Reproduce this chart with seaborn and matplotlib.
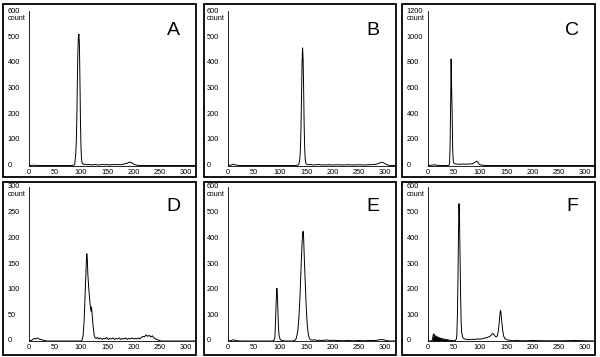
import matplotlib
matplotlib.use("Agg")
import matplotlib.pyplot as plt
from matplotlib.patches import Rectangle
from matplotlib.ticker import MultipleLocator
import seaborn as sns

sns.set_style("white")
plt.rcParams["font.family"] = ["Liberation Sans", "DejaVu Sans"]
plt.rcParams["text.color"] = "black"

# (channel, count)
hist_a = [(0, 0), (10, 1), (20, 0), (40, 0), (60, 0), (80, 0), (86, 1), (88, 4), (89, 25), (90, 45),
          (91, 90), (92, 180), (93, 320), (94, 440), (95, 500), (96, 512), (97, 470), (98, 330),
          (99, 170), (100, 70), (101, 25), (102, 10), (104, 6), (106, 4), (108, 5), (112, 3),
          (116, 4), (120, 2), (125, 4), (130, 3), (135, 2), (140, 4), (145, 3), (150, 4), (155, 2),
          (160, 4), (165, 3), (170, 4), (175, 3), (180, 5), (185, 7), (188, 9), (191, 12),
          (194, 13), (197, 10), (200, 6), (203, 3), (207, 1), (212, 0), (240, 0), (280, 0), (321, 0)]
hist_b = [(0, 0), (8, 2), (11, 5), (14, 3), (18, 1), (25, 0), (60, 0), (100, 0), (130, 0), (134, 1),
          (136, 5), (138, 30), (139, 70), (140, 150), (141, 270), (142, 400), (143, 458), (144, 420),
          (145, 300), (146, 160), (147, 70), (148, 25), (149, 10), (151, 5), (154, 3), (158, 4),
          (163, 2), (168, 3), (173, 4), (178, 2), (183, 3), (188, 2), (193, 3), (200, 2), (210, 3),
          (220, 2), (230, 3), (240, 2), (250, 3), (260, 2), (270, 3), (280, 4), (285, 6), (289, 9),
          (292, 12), (295, 13), (298, 10), (301, 6), (305, 2), (310, 0), (321, 0)]
hist_c = [(0, 0), (10, 3), (13, 6), (16, 3), (20, 1), (30, 0), (38, 0), (41, 2), (42, 20), (43, 150),
          (44, 450), (45, 830), (46, 600), (47, 400), (48, 120), (49, 40), (50, 20), (52, 14),
          (55, 10), (58, 11), (63, 9), (68, 12), (73, 10), (78, 11), (83, 12), (86, 15), (89, 22),
          (92, 30), (94, 33), (96, 25), (98, 12), (101, 5), (105, 2), (110, 0), (150, 0), (200, 0),
          (250, 0), (321, 0)]
hist_d = [(0, 0), (5, 1), (8, 3), (11, 5), (14, 4), (17, 6), (20, 4), (23, 3), (27, 2), (30, 1),
          (35, 0), (60, 0), (90, 0), (100, 0), (102, 2), (104, 10), (106, 40), (108, 95), (110, 150),
          (111, 170), (112, 160), (113, 130), (115, 100), (117, 75), (119, 58), (120, 66), (121, 55),
          (123, 30), (125, 12), (127, 6), (129, 5), (131, 7), (134, 4), (137, 6), (140, 3), (143, 5),
          (146, 4), (149, 7), (152, 3), (155, 5), (158, 4), (161, 6), (164, 3), (167, 5), (170, 4),
          (173, 6), (176, 3), (179, 5), (182, 4), (185, 6), (188, 3), (191, 5), (194, 4), (197, 6),
          (200, 4), (203, 5), (206, 4), (209, 6), (212, 4), (215, 7), (218, 9), (221, 8), (224, 12),
          (227, 9), (230, 11), (233, 8), (236, 10), (239, 6), (242, 4), (245, 3), (249, 1),
          (253, 0), (321, 0)]
hist_e = [(0, 0), (8, 2), (11, 5), (14, 3), (18, 1), (25, 0), (50, 0), (85, 0), (88, 2), (90, 10),
          (91, 50), (92, 110), (93, 170), (94, 205), (95, 180), (96, 120), (97, 60), (98, 25),
          (100, 8), (102, 3), (105, 1), (110, 0), (124, 0), (128, 2), (131, 10), (134, 40),
          (136, 90), (138, 170), (140, 280), (142, 380), (143, 415), (144, 427), (145, 400),
          (146, 340), (148, 230), (150, 130), (152, 60), (154, 25), (156, 10), (158, 5), (161, 3),
          (165, 5), (170, 2), (175, 3), (180, 2), (185, 3), (190, 4), (195, 2), (200, 3), (210, 2),
          (220, 1), (230, 2), (240, 1), (250, 2), (260, 1), (270, 2), (280, 2), (285, 3), (290, 5),
          (295, 6), (298, 4), (302, 2), (308, 0), (321, 0)]
hist_f = [(0, 0), (5, 0), (9, 2), (10, 15), (11, 25), (12, 28), (13, 22), (15, 20), (17, 18),
          (20, 14), (23, 12), (26, 10), (30, 8), (34, 6), (38, 5), (42, 3), (46, 2), (50, 1),
          (53, 2), (55, 8), (56, 30), (57, 100), (58, 240), (59, 420), (60, 535), (61, 470),
          (62, 330), (63, 180), (64, 80), (65, 35), (67, 15), (70, 8), (75, 6), (80, 5), (85, 7),
          (90, 6), (95, 8), (100, 7), (105, 9), (110, 12), (114, 14), (118, 17), (121, 22),
          (123, 27), (125, 29), (127, 24), (129, 18), (131, 16), (133, 20), (135, 40), (137, 80),
          (138, 105), (139, 120), (140, 110), (141, 85), (143, 45), (145, 20), (147, 10), (150, 6),
          (153, 4), (157, 3), (162, 1), (170, 2), (180, 1), (190, 1), (200, 2), (220, 1), (240, 1),
          (260, 1), (280, 2), (300, 1), (321, 0)]

letters = ["A", "B", "C", "D", "E", "F"]
hists = [hist_a, hist_b, hist_c, hist_d, hist_e, hist_f]
y_max = [600, 600, 1200, 300, 600, 600]
y_step = [100, 100, 200, 50, 100, 100]
y_minor = [20, 20, 50, 10, 20, 20]
x_ticks = [0, 50, 100, 150, 200, 250, 300]

W, H = 600, 357
fig = plt.figure(figsize=(6, 3.57), dpi=100)


def px(l, t, r, b):
    return [l / W, 1 - b / H, (r - l) / W, (b - t) / H]


col_lr = [(28.5, 196), (227.5, 396), (427.5, 595)]
row_tb = [(11.5, 165.5), (187, 341)]
box_lr = [(3, 196), (203.5, 396), (402, 595)]
box_tb = [(4, 177), (182, 355)]

for i, (letter, data) in enumerate(zip(letters, hists)):
    r, c = divmod(i, 3)
    l, rt = col_lr[c]
    t, b = row_tb[r]
    ax = fig.add_axes(px(l, t, rt, b))
    xs = [p[0] for p in data]
    ys = [p[1] for p in data]
    sns.lineplot(x=xs, y=ys, ax=ax, color="black", linewidth=0.7)
    if letter == "F":
        # debris region at low channels is shaded solid
        ax.fill_between(xs[:18], ys[:18], color="black", linewidth=0)
    ymax = y_max[i]
    ax.set_xlim(0, (rt - l) / (157.5 / 300))
    ax.set_ylim(0, ymax)
    ax.set_xticks(x_ticks)
    ax.set_yticks(range(0, ymax + 1, y_step[i]))
    ax.xaxis.set_minor_locator(MultipleLocator(10))
    ax.yaxis.set_minor_locator(MultipleLocator(y_minor[i]))
    for s in ["top", "right"]:
        ax.spines[s].set_visible(False)
    for s in ["left", "bottom"]:
        ax.spines[s].set_linewidth(0.6)
        ax.spines[s].set_color("black")
    ax.tick_params(which="major", direction="inout", length=3, width=0.6, labelsize=5.3,
                   colors="black")
    ax.tick_params(which="minor", direction="inout", length=1.6, width=0.5, colors="black")
    ax.tick_params(axis="x", pad=1)
    ax.tick_params(axis="y", pad=13.6)
    for lab in ax.get_yticklabels():
        lab.set_horizontalalignment("left")
        lab.set_verticalalignment("center")
    ax.annotate("count", xy=(0, ymax), xycoords=("axes fraction", "data"),
                xytext=(-15.1, -5.2), textcoords="offset points", ha="left", va="center",
                fontsize=5.3, color="black")
    ax.text(0.865, 0.875, letter, transform=ax.transAxes, ha="center", va="center",
            fontsize=14, color="black")
    ax.set_facecolor("none")
    bl, br = box_lr[c]
    bt, bb = box_tb[r]
    fig.patches.append(Rectangle((bl / W, 1 - bb / H), (br - bl) / W, (bb - bt) / H,
                                 transform=fig.transFigure, fill=False, edgecolor="black",
                                 linewidth=1.3))

fig.savefig("out.png", dpi=100)
